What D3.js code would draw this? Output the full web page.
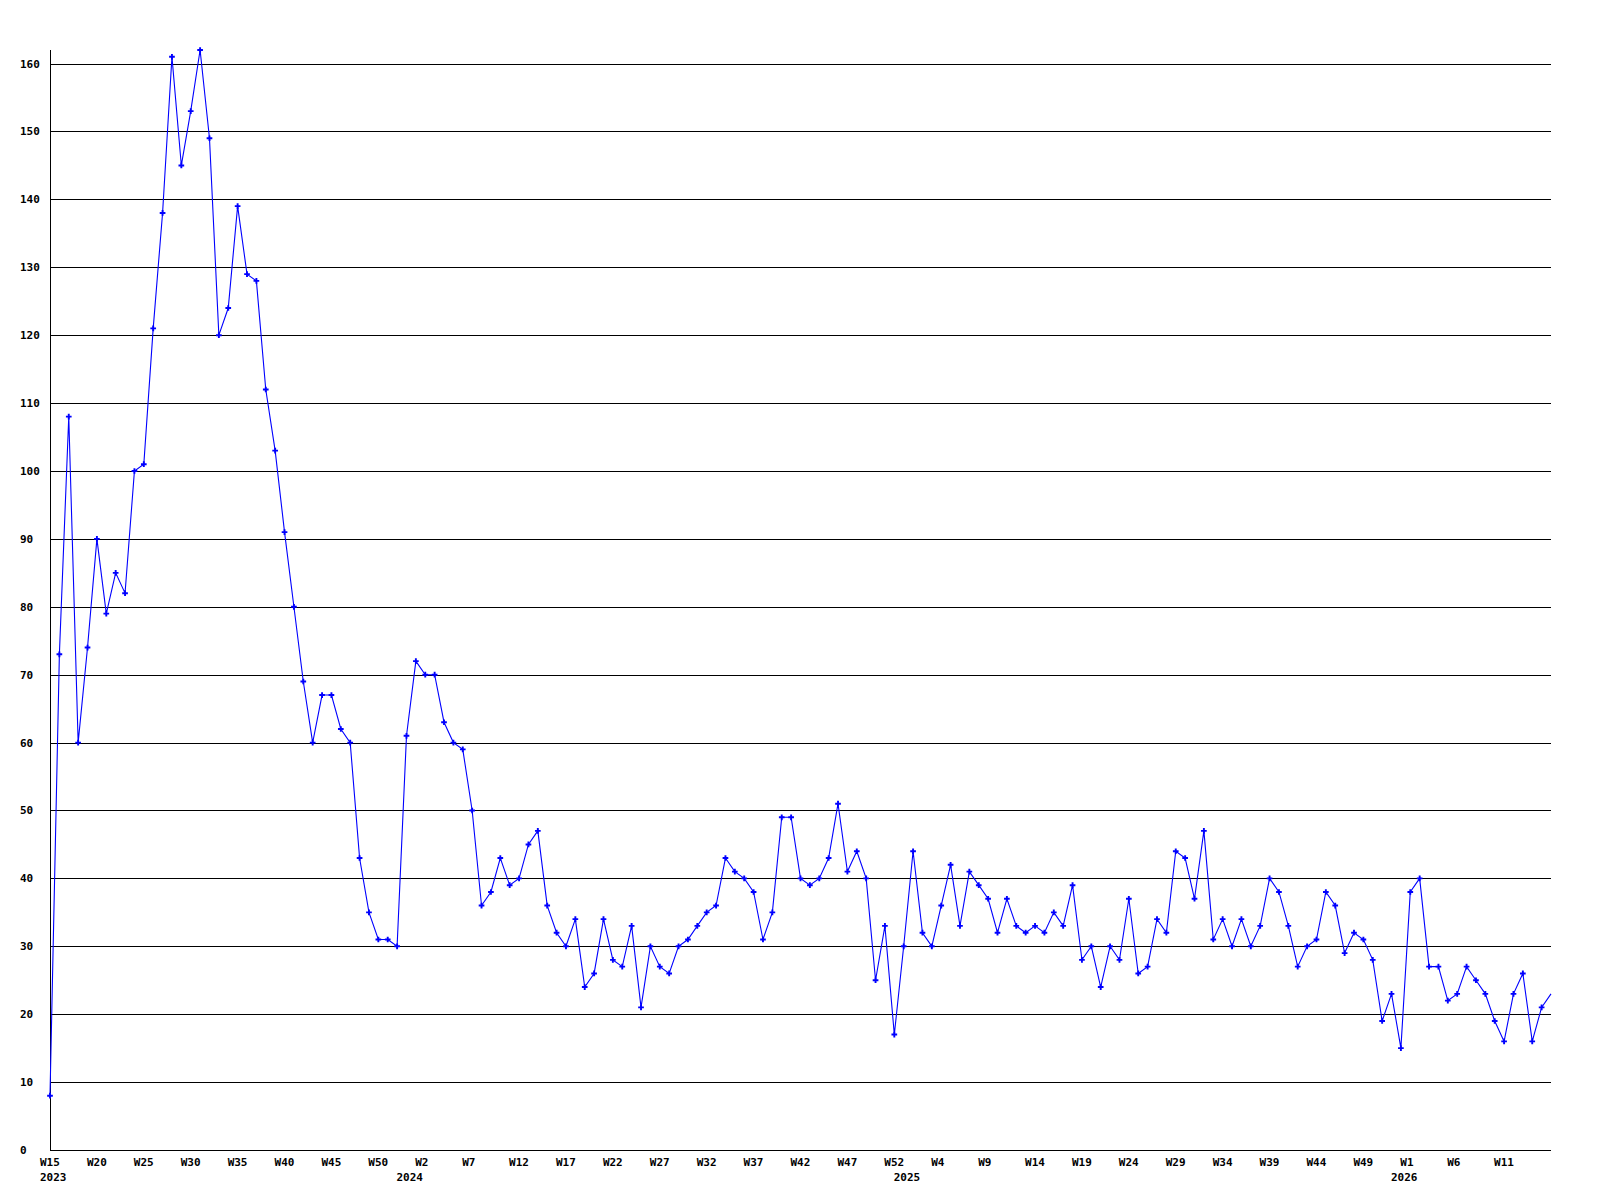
<!DOCTYPE html>
<html>
<head>
<meta charset="utf-8">
<script src="https://cdn.jsdelivr.net/npm/d3@7"></script>
<style>
  body { margin: 0; background: #fff; }
  svg { display: block; }
  text { font-family: "DejaVu Sans Mono", "Liberation Mono", monospace; font-size: 11px; font-weight: bold; fill: #000; }
</style>
</head>
<body>
<svg></svg>
<script>
// weekly counts, first point is W15 2023
const values = [
  8, 73, 108, 60, 74, 90, 79, 85, 82, 100, 101, 121, 138, 161, 145, 153, 162, 149, 120, 124,
  139, 129, 128, 112, 103, 91, 80, 69, 60, 67, 67, 62, 60, 43, 35, 31, 31, 30,
  61, 72, 70, 70, 63, 60, 59, 50, 36, 38, 43, 39, 40, 45, 47, 36, 32, 30, 34, 24,
  26, 34, 28, 27, 33, 21, 30, 27, 26, 30, 31, 33, 35, 36, 43, 41, 40, 38, 31, 35, 49, 49, 40,
  39, 40, 43, 51, 41, 44, 40, 25, 33, 17, 30, 44, 32, 30, 36, 42, 33, 41, 39, 37,
  32, 37, 33, 32, 33, 32, 35, 33, 39, 28, 30, 24, 30, 28, 37, 26, 27, 34, 32, 44, 43, 37, 47,
  31, 34, 30, 34, 30, 33, 40, 38, 33, 27, 30, 31, 38, 36, 29, 32, 31, 28, 19, 23,
  15, 38, 40, 27, 27, 22, 23, 27, 25, 23, 19, 16, 23, 26, 16, 21, 23
];

// one label every 5 weeks, starting at the first point
const weekLabels = [
  "W15", "W20", "W25", "W30", "W35", "W40", "W45", "W50",
  "W2", "W7", "W12", "W17", "W22", "W27", "W32", "W37", "W42", "W47", "W52",
  "W4", "W9", "W14", "W19", "W24", "W29", "W34", "W39", "W44", "W49",
  "W1", "W6", "W11"
];
const tickStep = 5;

// year labels and the week index where each year starts
const years = ["2023", "2024", "2025", "2026"];
const yearStart = [0, 38, 91, 144];

const yTicks = d3.range(0, 161, 10);

let width = 1600;
let height = 1200;
let margin = { top: 50, right: 49, bottom: 50, left: 50 };

let svg = d3.select('svg')
  .attr('width', width)
  .attr('height', height);

let x = d3.scaleLinear()
  .domain([0, values.length - 1])
  .range([margin.left, width - margin.right]);

let y = d3.scaleLinear()
  .domain([0, d3.max(values)])
  .range([height - margin.bottom, margin.top]);

// horizontal grid lines
svg.append('g')
  .selectAll('line')
  .data(yTicks)
  .enter().append('line')
  .attr('x1', x(0))
  .attr('x2', x(values.length - 1))
  .attr('y1', d => Math.round(y(d)) + 0.5)
  .attr('y2', d => Math.round(y(d)) + 0.5)
  .style('stroke', '#000')
  .style('shape-rendering', 'crispEdges');

// y axis line
svg.append('line')
  .attr('x1', x(0) + 0.5)
  .attr('x2', x(0) + 0.5)
  .attr('y1', y(d3.max(values)))
  .attr('y2', y(0))
  .style('stroke', '#000')
  .style('shape-rendering', 'crispEdges');

// y labels, left aligned
svg.append('g')
  .selectAll('text')
  .data(yTicks)
  .enter().append('text')
  .attr('x', 20)
  .attr('y', d => y(d) + 4)
  .text(d => d);

// week labels
svg.append('g')
  .selectAll('text')
  .data(weekLabels)
  .enter().append('text')
  .attr('x', (d, i) => x(i * tickStep) - 10)
  .attr('y', height - 34)
  .text(d => d);

// year labels
svg.append('g')
  .selectAll('text')
  .data(years)
  .enter().append('text')
  .attr('x', (d, i) => x(yearStart[i]) - 10)
  .attr('y', height - 19)
  .text(d => d);

// the series
let line = d3.line()
  .x((d, i) => x(i))
  .y(d => y(d));

svg.append('path')
  .datum(values)
  .attr('d', line)
  .style('fill', 'none')
  .style('stroke', '#0000ff')
  .style('stroke-width', 1.1);

// markers (the last, unfinished week has none)
svg.append('g')
  .selectAll('path')
  .data(values.slice(0, -1))
  .enter().append('path')
  .attr('transform', (d, i) => 'translate(' + x(i) + ',' + y(d) + ')')
  .attr('d', d3.symbol().type(d3.symbolCross).size(18))
  .style('fill', '#0000ff');
</script>
</body>
</html>
